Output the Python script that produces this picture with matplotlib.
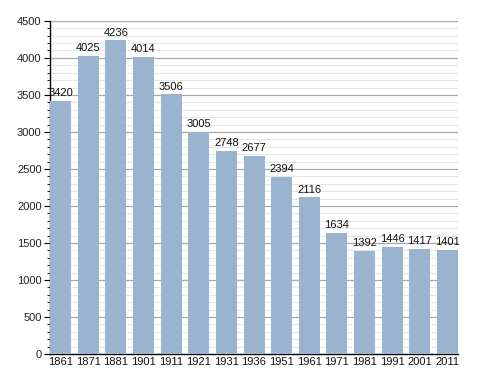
import matplotlib
matplotlib.use('Agg')
import matplotlib.pyplot as plt
from matplotlib.ticker import MultipleLocator

years = ['1861', '1871', '1881', '1901', '1911', '1921', '1931', '1936',
         '1951', '1961', '1971', '1981', '1991', '2001', '2011']
population = [3420, 4025, 4236, 4014, 3506, 3005, 2748, 2677,
              2394, 2116, 1634, 1392, 1446, 1417, 1401]

BAR_COLOR = '#9AB3CE'

plt.rcParams['font.family'] = ['Liberation Sans', 'DejaVu Sans']

fig = plt.figure(figsize=(4.88, 3.73), dpi=100)
ax = fig.add_axes([0.1025, 0.051, 0.836, 0.893])

x = range(len(years))
width = 0.76
bars = ax.bar(x, population, width=width, color=BAR_COLOR, zorder=3)
for xi, v in zip(x, population):
    ax.annotate(str(v), (xi, v), xytext=(0, 2), textcoords='offset points',
                ha='center', va='bottom', fontsize=8, color='#111111', zorder=4)

ax.set_xlim(-width / 2, len(years) - 1 + width / 2)
ax.set_ylim(0, 4500)
ax.yaxis.set_major_locator(MultipleLocator(500))
ax.yaxis.set_minor_locator(MultipleLocator(100))
ax.grid(axis='y', which='major', color='#A8A8A8', linewidth=0.9, zorder=1)
ax.grid(axis='y', which='minor', color='#E6E6E6', linewidth=0.8, zorder=1)

ax.set_xticks(list(x))
ax.set_xticklabels(years)
ax.tick_params(axis='x', length=0, labelsize=8, pad=2, labelcolor='#111111')
ax.tick_params(axis='y', which='major', length=4, width=0.8, labelsize=8, pad=2,
               labelcolor='#222222')
ax.tick_params(axis='y', which='minor', length=2, width=0.6)

for s in ('top', 'right'):
    ax.spines[s].set_visible(False)
ax.spines['left'].set_linewidth(1.0)
ax.spines['bottom'].set_linewidth(1.0)

plt.savefig('out.png', dpi=100)
plt.close()
